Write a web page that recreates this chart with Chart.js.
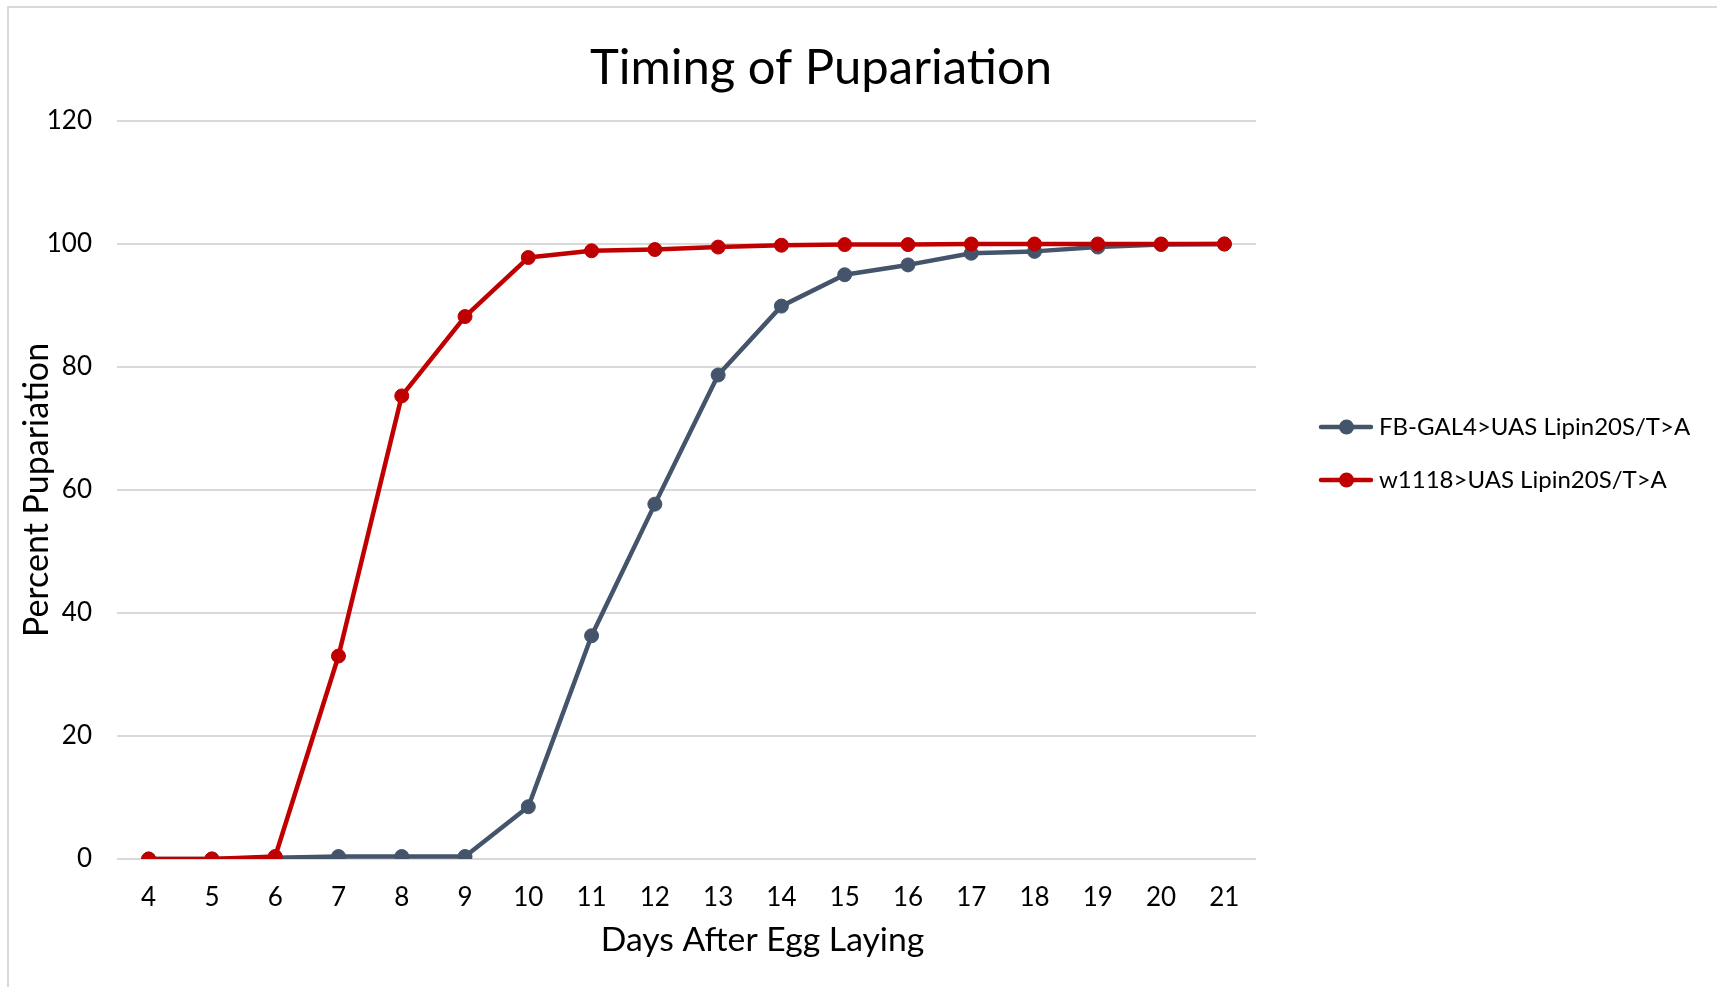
<!DOCTYPE html>
<html>
<head>
<meta charset="utf-8">
<title>Timing of Pupariation</title>
<script src="https://cdn.jsdelivr.net/npm/chart.js@4.4.1/dist/chart.umd.min.js"></script>
<style>
  html, body { margin: 0; padding: 0; background: #ffffff; overflow: hidden; }
  #wrap { position: relative; width: 1717px; height: 987px; }
  #frame { position: absolute; left: 7px; top: 6px; width: 1760px; height: 1040px;
           border: 2px solid #d9d9d9; box-sizing: border-box; pointer-events: none; }
  canvas { position: absolute; left: 0; top: 0; }
</style>
</head>
<body>
<div id="wrap">
  <canvas id="chart" width="1717" height="987"></canvas>
  <div id="frame"></div>
</div>
<script>
// Days after egg laying (category axis)
const days = ['4', '5', '6', '7', '8', '9', '10', '11', '12', '13', '14', '15', '16', '17', '18', '19', '20', '21'];

// Cumulative percent pupariation per genotype
const w1118Values = [0, 0, 0.4, 33.0, 75.3, 88.2, 97.8, 98.9, 99.1, 99.5, 99.8, 99.9, 99.9, 100, 100, 100, 100, 100];
const fbGal4Values = [0, 0, 0.2, 0.4, 0.4, 0.4, 8.5, 36.3, 57.7, 78.7, 89.9, 95.0, 96.6, 98.5, 98.8, 99.5, 99.9, 100];

const seriesNames = ['w1118>UAS Lipin20S/T>A', 'FB-GAL4>UAS Lipin20S/T>A'];
const yTicks = [0, 20, 40, 60, 80, 100, 120];

const chartTitle = 'Timing of Pupariation';
const xTitle = 'Days After Egg Laying';
const yTitle = 'Percent Pupariation';

const RED = '#C00000';
const SLATE = '#44546A';
const FONT = 'Lato, Carlito, Calibri, "Open Sans", sans-serif';
const TICK_SIZE = 26;
const LEGEND_SIZE = 24;

// Page geometry for the plot box
const CANVAS_W = 1717;
const PLOT_RIGHT = 1256;
const LEGEND_PAD = 29;
const SWATCH_W = 82;

// Legend swatch: short line with a marker in the middle
function legendSwatch(color) {
  const c = document.createElement('canvas');
  c.width = 98; c.height = 18;
  const g = c.getContext('2d');
  g.strokeStyle = color;
  g.lineWidth = 4.5;
  g.lineCap = 'round';
  g.beginPath(); g.moveTo(44, 9); g.lineTo(94, 9); g.stroke();
  g.fillStyle = color;
  g.beginPath(); g.arc(69.5, 9, 7.5, 0, Math.PI * 2); g.fill();
  return c;
}
const swatches = [legendSwatch(RED), legendSwatch(SLATE)];

// Horizontal axis caption, centred a little right of the plot middle
const xCaption = {
  id: 'xCaption',
  afterDraw(chart) {
    const { ctx, chartArea } = chart;
    ctx.save();
    ctx.font = '33.7px ' + FONT;
    ctx.fillStyle = '#000000';
    ctx.textAlign = 'center';
    ctx.textBaseline = 'middle';
    ctx.fillText(xTitle, (chartArea.left + chartArea.right) / 2 + 76, 940);
    ctx.restore();
  }
};

function build() {
  // Size the right-hand legend column so the plot ends at PLOT_RIGHT
  const m = document.createElement('canvas').getContext('2d');
  m.font = LEGEND_SIZE + 'px ' + FONT;
  const textW = Math.max(...seriesNames.map(s => m.measureText(s).width));
  const legendW = LEGEND_PAD + SWATCH_W + LEGEND_SIZE / 2 + textW + 10;
  const padR = Math.max(0, CANVAS_W - PLOT_RIGHT - legendW);
  const padL = padR - 75;              // keeps the chart title centred over the chart body
  const yAxisW = 117 - padL;

  new Chart(document.getElementById('chart'), {
    type: 'line',
    data: {
      labels: days,
      datasets: [
        {
          label: seriesNames[0],
          data: w1118Values,
          borderColor: RED,
          backgroundColor: RED,
          pointBackgroundColor: RED,
          pointBorderColor: RED
        },
        {
          label: seriesNames[1],
          data: fbGal4Values,
          borderColor: SLATE,
          backgroundColor: SLATE,
          pointBackgroundColor: SLATE,
          pointBorderColor: SLATE
        }
      ]
    },
    options: {
      responsive: false,
      animation: false,
      devicePixelRatio: 1,
      layout: { padding: { left: padL, top: 0, right: padR, bottom: 0 } },
      elements: {
        line: { borderWidth: 4.5, tension: 0, borderCapStyle: 'round', borderJoinStyle: 'round' },
        point: { radius: 7, borderWidth: 1, pointStyle: 'circle', hoverRadius: 7 }
      },
      plugins: {
        tooltip: { enabled: false },
        title: {
          display: true,
          text: chartTitle,
          color: '#000000',
          font: { family: FONT, size: 49, weight: 'normal', lineHeight: 1.2 },
          padding: { top: 38.6, bottom: 23.6 }
        },
        legend: {
          display: true,
          position: 'right',
          align: 'start',
          reverse: true,
          maxWidth: CANVAS_W - PLOT_RIGHT - padR,
          title: { display: true, text: '', font: { size: 10, lineHeight: 1 }, padding: { top: 376, bottom: 0 } },
          labels: {
            color: '#000000',
            font: { family: FONT, size: LEGEND_SIZE },
            usePointStyle: true,
            pointStyleWidth: SWATCH_W,
            padding: LEGEND_PAD,
            generateLabels(chart) {
              const items = Chart.defaults.plugins.legend.labels.generateLabels(chart);
              items.forEach(it => { it.pointStyle = swatches[it.datasetIndex]; });
              return items;
            }
          }
        }
      },
      scales: {
        x: {
          type: 'category',
          offset: true,
          grid: { display: false, drawTicks: false },
          border: { display: false },
          ticks: { color: '#000000', font: { family: FONT, size: TICK_SIZE }, padding: 23, maxRotation: 0, autoSkip: false },
          afterFit(scale) { scale.height = 128; }
        },
        y: {
          min: 0,
          max: 120,
          afterBuildTicks(scale) { scale.ticks = yTicks.map(v => ({ value: v })); },
          grid: { color: '#d9d9d9', lineWidth: 2, drawTicks: false },
          border: { display: false },
          ticks: { color: '#000000', font: { family: FONT, size: TICK_SIZE }, padding: 25 },
          title: {
            display: true,
            text: yTitle,
            color: '#000000',
            font: { family: FONT, size: 34 },
            padding: { top: 37 - padL - 20.4, bottom: 0 }
          },
          afterFit(scale) { scale.width = yAxisW; }
        }
      }
    },
    plugins: [xCaption]
  });
}

if (document.fonts && document.fonts.load) {
  Promise.all([document.fonts.load('26px Lato'), document.fonts.load('49px Lato')]).then(build, build);
} else {
  build();
}
</script>
</body>
</html>
